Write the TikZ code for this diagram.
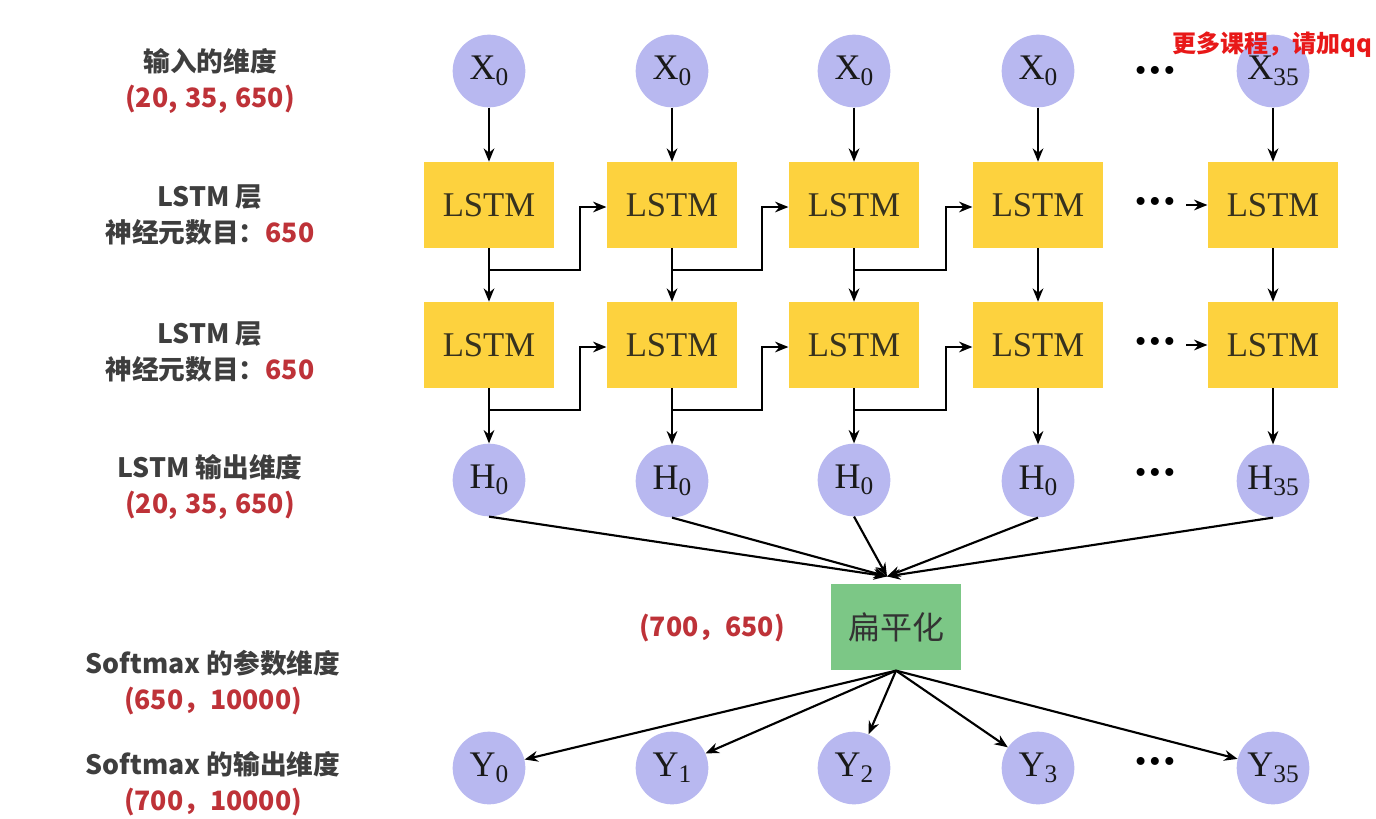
\documentclass[tikz,border=0pt]{standalone}
\usepackage{fontspec}
\setmainfont{Liberation Serif}
\newfontfamily\cjk{Noto Sans CJK SC}
\usetikzlibrary{arrows.meta,calc}
\definecolor{nodeblue}{RGB}{184,184,240}
\definecolor{lstmyellow}{RGB}{253,210,62}
\definecolor{flatgreen}{RGB}{124,199,134}
\definecolor{labelgray}{RGB}{62,62,62}
\definecolor{labelred}{RGB}{190,50,56}
\definecolor{markred}{RGB}{232,24,24}
\definecolor{celltext}{RGB}{55,50,30}
\newcommand{\nsub}[2]{#1\raisebox{-0.35ex}{\fontsize{19}{19}\selectfont #2}}
\newcommand{\threedots}{\textbullet\hspace{2pt}\textbullet\hspace{2pt}\textbullet}
\newcommand{\gap}{,\hspace{0.3em}}

\begin{document}
\begin{tikzpicture}[x=0.75pt,y=0.75pt,yscale=-1,xscale=1,
	vec/.style={circle,fill=nodeblue,minimum size=54.5pt,inner sep=0pt,text=black!90,font=\fontsize{27}{27}\selectfont},
	cell/.style={fill=lstmyellow,minimum width=98pt,minimum height=64.5pt,inner sep=0pt,text=celltext,font=\fontsize{26}{26}\selectfont},
	flatbox/.style={fill=flatgreen,minimum width=97.5pt,minimum height=65pt,inner sep=0pt,text=black!80,font=\cjk\fontsize{24}{24}\selectfont},
	arr/.style={-{Stealth[length=10pt,width=8pt]},line width=1.6pt},
	lbl/.style={align=center,text=labelgray,font=\cjk\bfseries\fontsize{20}{27}\selectfont},
	dotsnode/.style={inner sep=0pt,font=\fontsize{25}{25}\selectfont}
	]
	\useasboundingbox (0,0) rectangle (1376,818);
	\fill[white] (0,0) rectangle (1376,818);
	
	% Input vectors
	\node [vec] (x1) at (489,71) {\nsub{X}{0}};
	\node [vec] (x2) at (672,71) {\nsub{X}{0}};
	\node [vec] (x3) at (854,71) {\nsub{X}{0}};
	\node [vec] (x4) at (1038,71) {\nsub{X}{0}};
	\node [dotsnode] (dx) at (1155,74) {\threedots};
	\node [vec] (x5) at (1273,71) {\nsub{X}{35}};
	
	% Text Node: watermark
	\node [anchor=west,inner sep=0pt,text=markred,font=\cjk\bfseries\fontsize{18}{18}\selectfont] (mark) at (1172,45) {更多课程，请加qq};
	
	% LSTM layer 1
	\node [cell] (l1) at (489,205) {LSTM};
	\node [cell] (l2) at (672,205) {LSTM};
	\node [cell] (l3) at (854,205) {LSTM};
	\node [cell] (l4) at (1038,205) {LSTM};
	\node [dotsnode] (dl) at (1155,205) {\threedots};
	\node [cell] (l5) at (1273,205) {LSTM};
	
	% LSTM layer 2
	\node [cell] (m1) at (489,345) {LSTM};
	\node [cell] (m2) at (672,345) {LSTM};
	\node [cell] (m3) at (854,345) {LSTM};
	\node [cell] (m4) at (1038,345) {LSTM};
	\node [dotsnode] (dm) at (1155,345) {\threedots};
	\node [cell] (m5) at (1273,345) {LSTM};
	
	% Hidden outputs
	\node [vec] (h1) at (489,480) {\nsub{H}{0}};
	\node [vec] (h2) at (672,481) {\nsub{H}{0}};
	\node [vec] (h3) at (854,480) {\nsub{H}{0}};
	\node [vec] (h4) at (1038,481) {\nsub{H}{0}};
	\node [dotsnode] (dh) at (1155,476) {\threedots};
	\node [vec] (h5) at (1273,481) {\nsub{H}{35}};
	
	% Flatten
	\node [flatbox] (flat) at (896,627) {扁平化};
	\coordinate (fin) at ($(flat.north)+(-9,-7)$);
	
	% Softmax outputs
	\node [vec] (y1) at (489,768) {\nsub{Y}{0}};
	\node [vec] (y2) at (672,768) {\nsub{Y}{1}};
	\node [vec] (y3) at (854,768) {\nsub{Y}{2}};
	\node [vec] (y4) at (1038,768) {\nsub{Y}{3}};
	\node [dotsnode] (dy) at (1155,765) {\threedots};
	\node [vec] (y5) at (1273,768) {\nsub{Y}{35}};
	
	% Vertical arrows
	\draw [arr] (x1) -- (l1);
	\draw [arr] (x2) -- (l2);
	\draw [arr] (x3) -- (l3);
	\draw [arr] (x4) -- (l4);
	\draw [arr] (x5) -- (l5);
	\draw [arr] (l1) -- (m1);
	\draw [arr] (l2) -- (m2);
	\draw [arr] (l3) -- (m3);
	\draw [arr] (l4) -- (m4);
	\draw [arr] (l5) -- (m5);
	\draw [arr] (m1) -- (h1);
	\draw [arr] (m2) -- (h2);
	\draw [arr] (m3) -- (h3);
	\draw [arr] (m4) -- (h4);
	\draw [arr] (m5) -- (h5);
	
	% Recurrent links
	\draw [arr] ($(l1.south)+(0,22)$) -| ($(l2.west)+(-26,2)$) -- ($(l2.west)+(0,2)$);
	\draw [arr] ($(l2.south)+(0,22)$) -| ($(l3.west)+(-26,2)$) -- ($(l3.west)+(0,2)$);
	\draw [arr] ($(l3.south)+(0,22)$) -| ($(l4.west)+(-26,2)$) -- ($(l4.west)+(0,2)$);
	\draw [arr,shorten <=8pt] (dl) -- (l5);
	\draw [arr] ($(m1.south)+(0,22)$) -| ($(m2.west)+(-26,2)$) -- ($(m2.west)+(0,2)$);
	\draw [arr] ($(m2.south)+(0,22)$) -| ($(m3.west)+(-26,2)$) -- ($(m3.west)+(0,2)$);
	\draw [arr] ($(m3.south)+(0,22)$) -| ($(m4.west)+(-26,2)$) -- ($(m4.west)+(0,2)$);
	\draw [arr,shorten <=8pt] (dm) -- (m5);
	
	% Into flatten
	\draw [arr] (h1.south) -- (fin);
	\draw [arr] (h2.south) -- (fin);
	\draw [arr] (h3.south) -- (fin);
	\draw [arr] (h4.south) -- (fin);
	\draw [arr] (h5.south) -- (fin);
	
	% Out of flatten
	\draw [arr] (flat.south) -- (y1);
	\draw [arr] (flat.south) -- (y2);
	\draw [arr] (flat.south) -- (y3);
	\draw [arr] (flat.south) -- (y4);
	\draw [arr] (flat.south) -- (y5);
	
	% Text Node
	\node [lbl] (lblin) at (210,81) {输入的维度\\{\color{labelred}(20\gap 35\gap 650)}};
	% Text Node
	\node [lbl] (lbll1) at (210,215) {LSTM 层\\神经元数目：{\color{labelred}650}};
	% Text Node
	\node [lbl] (lbll2) at (210,352) {LSTM 层\\神经元数目：{\color{labelred}650}};
	% Text Node
	\node [lbl] (lblh) at (210,487) {LSTM 输出维度\\{\color{labelred}(20\gap 35\gap 650)}};
	% Text Node
	\node [lbl,text=labelred] (lblflat) at (712,628) {(700，650)};
	% Text Node
	\node [lbl] (lblw) at (213,683) {Softmax 的参数维度\\{\color{labelred}(650，10000)}};
	% Text Node
	\node [lbl] (lbly) at (213,784) {Softmax 的输出维度\\{\color{labelred}(700，10000)}};
	
\end{tikzpicture}
\end{document}
